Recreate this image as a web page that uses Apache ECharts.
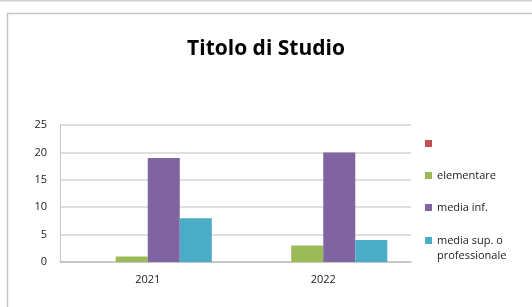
<!DOCTYPE html>
<html>
<head>
<meta charset="utf-8">
<script src="https://cdn.jsdelivr.net/npm/echarts@6/dist/echarts.min.js"></script>
<style>
  html, body { margin: 0; padding: 0; background: #fff; }
  #chart { width: 532px; height: 307px; }
</style>
</head>
<body>
<div id="chart"></div>
<script>
// dati
var anni = ['2021', '2022'];
var serieNomi = [' ', 'elementare', 'media inf.', 'media sup. o professionale'];
var vuota = [null, null];
var elementare = [1, 3];
var mediaInf = [19, 20];
var mediaSup = [8, 4];
var colori = ['#C0504D', '#9BBB59', '#8064A2', '#4BACC6'];
var yTicks = { min: 0, max: 25, interval: 5 };

var font = '"Open Sans", "Liberation Sans", sans-serif';
var chart = echarts.init(document.getElementById('chart'), null, { renderer: 'canvas' });

function barSerie(nome, valori) {
    return {
        name: nome,
        type: 'bar',
        data: valori,
        barGap: 0,
        barCategoryGap: '27%',
        animation: false
    };
}

var legendText = {
    fontFamily: font,
    fontSize: 11,
    color: '#222',
    lineHeight: 15
};

function legenda(nomi, top, formatter) {
    return {
        orient: 'vertical',
        left: 425,
        top: top,
        padding: 0,
        icon: 'rect',
        itemWidth: 7,
        itemHeight: 7,
        itemGap: 17,
        selectedMode: false,
        data: nomi,
        formatter: formatter,
        textStyle: legendText
    };
}

var option = {
    color: colori,
    animation: false,
    title: {
        text: 'Titolo di Studio',
        left: 266,
        textAlign: 'center',
        top: 39,
        padding: 0,
        textStyle: {
            fontFamily: font,
            fontSize: 21,
            fontWeight: 'bold',
            color: '#000'
        }
    },
    legend: [
        legenda(serieNomi.slice(0, 3), 136),
        // ultima voce su due righe, icona allineata alla prima riga
        legenda(serieNomi.slice(3), 218, function () {
            return '\nmedia sup. o\nprofessionale';
        })
    ],
    grid: {
        left: 60,
        right: 121,
        top: 125,
        bottom: 45,
        containLabel: false
    },
    xAxis: {
        type: 'category',
        data: anni,
        axisLine: { lineStyle: { color: '#c0c0c0', width: 1.5 } },
        axisTick: { show: false },
        axisLabel: {
            margin: 12,
            fontFamily: font,
            fontSize: 11,
            color: '#222'
        }
    },
    yAxis: {
        type: 'value',
        min: yTicks.min,
        max: yTicks.max,
        interval: yTicks.interval,
        axisLine: { show: true, lineStyle: { color: '#c8c8c8', width: 1 } },
        axisTick: { show: false },
        splitLine: { lineStyle: { color: '#d4d4d4', width: 1.5 } },
        axisLabel: {
            margin: 13,
            fontFamily: font,
            fontSize: 11,
            color: '#222'
        }
    },
    series: [
        barSerie(serieNomi[0], vuota),
        barSerie(serieNomi[1], elementare),
        barSerie(serieNomi[2], mediaInf),
        barSerie(serieNomi[3], mediaSup)
    ],
    graphic: [
        {
            type: 'line',
            shape: { x1: 0, y1: 0.5, x2: 532, y2: 0.5 },
            style: { stroke: '#d0d0d0', lineWidth: 2 },
            silent: true
        },
        {
            type: 'polyline',
            shape: { points: [[7.5, 320], [7.5, 13.5], [540, 13.5]] },
            style: { stroke: '#c4c4c4', lineWidth: 1.5, fill: null },
            silent: true
        }
    ]
};

chart.setOption(option);
</script>
</body>
</html>
